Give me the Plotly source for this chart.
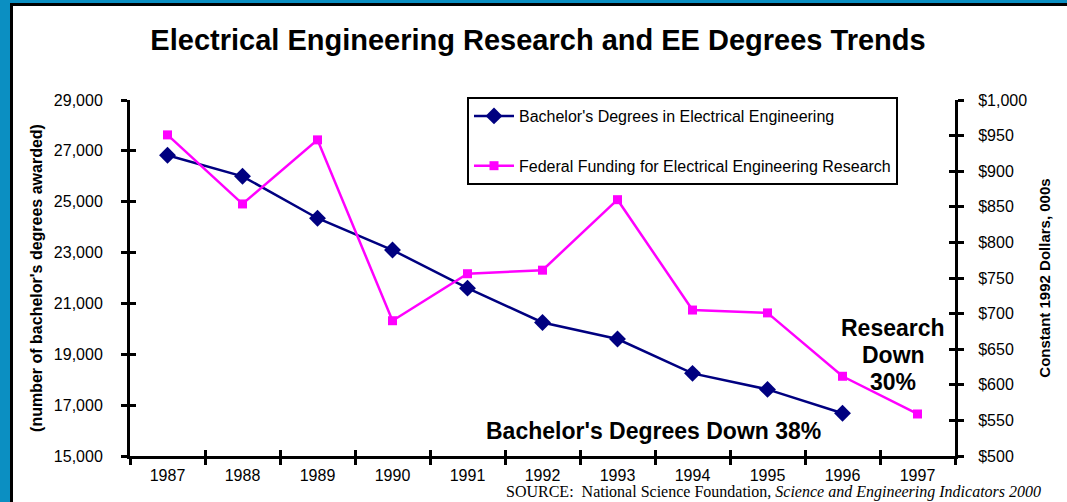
import plotly.graph_objects as go

years = ["1987", "1988", "1989", "1990", "1991", "1992", "1993", "1994", "1995", "1996", "1997"]
bachelors = [26830, 26000, 24350, 23100, 21600, 20250, 19600, 18250, 17620, 16680, None]
funding = [951, 854, 944, 690, 756, 761, 860, 705, 701, 612, 559]

left_ticks = [15000, 17000, 19000, 21000, 23000, 25000, 27000, 29000]
left_ticktext = ["15,000", "17,000", "19,000", "21,000", "23,000", "25,000", "27,000", "29,000"]
right_ticks = [500, 550, 600, 650, 700, 750, 800, 850, 900, 950, 1000]
right_ticktext = ["$500", "$550", "$600", "$650", "$700", "$750", "$800", "$850", "$900", "$950", "$1,000"]

W, H = 1067, 502
ML, MR, MT, MB = 130, 112, 100, 46
PW = W - ML - MR
PH = H - MT - MB

def px(p):
    return (p - ML) / PW

def py(p):
    return (H - MB - p) / PH

FONT = "Arial, Liberation Sans, sans-serif"
NAVY = "#000080"
MAG = "#FF00FF"
BLUE = "#0B8FC2"

fig = go.Figure()
fig.add_trace(go.Scatter(
    x=years, y=bachelors, name="Bachelor's Degrees in Electrical Engineering",
    mode="lines+markers", line=dict(color=NAVY, width=2.5),
    marker=dict(symbol="diamond", size=13, color=NAVY),
    legendgroup="a", xaxis="x", yaxis="y"))
fig.add_trace(go.Scatter(
    x=years, y=funding, name="Federal Funding for Electrical Engineering Research",
    mode="lines+markers", line=dict(color=MAG, width=2.5),
    marker=dict(symbol="square", size=9, color=MAG),
    legendgroup="b", xaxis="x", yaxis="y2"))
# invisible helpers so that the duplicated (inside-tick) axes get drawn
fig.add_trace(go.Scatter(x=[0], y=[15000], mode="markers", marker=dict(opacity=0),
                         showlegend=False, hoverinfo="skip", xaxis="x2", yaxis="y3"))
fig.add_trace(go.Scatter(x=[0], y=[500], mode="markers", marker=dict(opacity=0),
                         showlegend=False, hoverinfo="skip", xaxis="x2", yaxis="y4"))

bound_vals = [i - 0.5 for i in range(len(years) + 1)]

axis_common = dict(showgrid=False, zeroline=False, showline=True, linecolor="black",
                   linewidth=3, tickcolor="black", tickwidth=2.5, ticklen=6)

fig.update_layout(
    width=W, height=H,
    margin=dict(l=ML, r=MR, t=MT, b=MB, autoexpand=False),
    paper_bgcolor="white", plot_bgcolor="white",
    font=dict(family=FONT, color="black", size=16),
    title=dict(text="<b>Electrical Engineering Research and EE Degrees Trends</b>",
               x=538 / W, xanchor="center", y=1 - 40 / H, yanchor="middle",
               yref="container", xref="container",
               font=dict(size=29, family=FONT, color="black")),
    xaxis=dict(**axis_common, type="category", categoryorder="array", categoryarray=years,
               range=[-0.5, len(years) - 0.5], ticks="outside", tickson="boundaries",
               tickfont=dict(size=16), ticklabelstandoff=3),
    xaxis2=dict(overlaying="x", anchor="y3", side="bottom", range=[-0.5, len(years) - 0.5],
                tickmode="array", tickvals=bound_vals, showticklabels=False,
                ticks="inside", ticklen=6, tickwidth=2.5, tickcolor="black",
                showgrid=False, zeroline=False, showline=False),
    yaxis=dict(**axis_common, range=[15000, 29000], tickmode="array", tickvals=left_ticks,
               ticktext=left_ticktext, ticks="outside", tickfont=dict(size=16),
               ticklabelstandoff=15,
               title=dict(text="<b>(number of bachelor's degrees awarded)</b>",
                          font=dict(size=16), standoff=8)),
    yaxis2=dict(**axis_common, overlaying="y", side="right", anchor="x", range=[500, 1000],
                tickmode="array", tickvals=right_ticks, ticktext=right_ticktext,
                ticks="outside", tickfont=dict(size=16), ticklabelstandoff=11,
                title=dict(text="<b>Constant 1992 Dollars, 000s</b>",
                           font=dict(size=15), standoff=14)),
    yaxis3=dict(overlaying="y", side="left", anchor="x2", range=[15000, 29000],
                tickmode="array", tickvals=left_ticks, showticklabels=False,
                ticks="inside", ticklen=6, tickwidth=2.5, tickcolor="black",
                showgrid=False, zeroline=False, showline=False),
    yaxis4=dict(overlaying="y", side="right", anchor="x2", range=[500, 1000],
                tickmode="array", tickvals=right_ticks, showticklabels=False,
                ticks="inside", ticklen=6, tickwidth=2.5, tickcolor="black",
                showgrid=False, zeroline=False, showline=False),
    legend=dict(x=px(467), y=py(97), xanchor="left", yanchor="top",
                bgcolor="white", bordercolor="black", borderwidth=2,
                font=dict(size=16, family=FONT), traceorder="grouped",
                tracegroupgap=26, itemwidth=40),
    showlegend=True,
)

# frame: blue strips on the left and top, thin black inner edge
shapes = [
    dict(type="rect", xref="paper", yref="paper", x0=px(0), x1=px(10),
         y0=py(H), y1=py(0), fillcolor=BLUE, line=dict(width=0), layer="below"),
    dict(type="rect", xref="paper", yref="paper", x0=px(0), x1=px(W),
         y0=py(3), y1=py(0), fillcolor=BLUE, line=dict(width=0), layer="below"),
    dict(type="rect", xref="paper", yref="paper", x0=px(10), x1=px(13),
         y0=py(H), y1=py(3), fillcolor="black", line=dict(width=0), layer="below"),
    dict(type="rect", xref="paper", yref="paper", x0=px(10), x1=px(W),
         y0=py(6), y1=py(3), fillcolor="black", line=dict(width=0), layer="below"),
]
fig.update_layout(shapes=shapes)

ann_font = dict(size=23, family=FONT, color="black")
fig.add_annotation(text="<b>Bachelor's Degrees Down 38%</b>", xref="paper", yref="paper",
                   x=px(653), y=py(431), xanchor="center", yanchor="middle",
                   showarrow=False, font=ann_font)
for txt, yy in [("Research", 328), ("Down", 355), ("30%", 382)]:
    fig.add_annotation(text="<b>" + txt + "</b>", xref="paper", yref="paper",
                       x=px(893), y=py(yy), xanchor="center", yanchor="middle",
                       showarrow=False, font=ann_font)
fig.add_annotation(text="SOURCE:  National Science Foundation, <i>Science and Engineering Indicators 2000</i>",
                   xref="paper", yref="paper", x=px(1043), y=py(492), xanchor="right",
                   yanchor="middle", showarrow=False,
                   font=dict(size=16, family="Times New Roman, Liberation Serif, serif", color="black"))

fig.write_html("out.html", config={"displayModeBar": False},
               post_script="document.body.style.margin='0';document.body.style.overflow='hidden';")
